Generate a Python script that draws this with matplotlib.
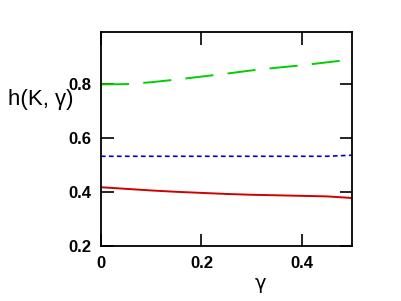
import matplotlib
matplotlib.use("Agg")
import matplotlib.pyplot as plt

gamma = [0.0, 0.05, 0.1, 0.15, 0.2, 0.25, 0.3, 0.35, 0.4, 0.45, 0.5]
h_green = [0.800, 0.801, 0.808, 0.818, 0.829, 0.840, 0.852, 0.862, 0.871, 0.882, 0.893]
h_blue = [0.533, 0.533, 0.533, 0.533, 0.533, 0.533, 0.533, 0.533, 0.533, 0.533, 0.537]
h_red = [0.418, 0.412, 0.406, 0.401, 0.397, 0.393, 0.390, 0.388, 0.386, 0.384, 0.378]
xticks = [0, 0.2, 0.4]
xticklabels = ["0", "0.2", "0.4"]
yticks = [0.2, 0.4, 0.6, 0.8]
yticklabels = ["0.2", "0.4", "0.6", "0.8"]

fig = plt.figure(figsize=(4.02, 3.01), dpi=100)
ax = fig.add_axes([0.251, 0.183, 0.625, 0.711])

ax.plot(gamma, h_green, color="#00d000", lw=1.4, dashes=(14.5, 7.3))
ax.plot(gamma, h_blue, color="#0000d0", lw=1.2, dashes=(2.8, 2.0))
ax.plot(gamma, h_red, color="#d00000", lw=1.4)

ax.set_xlim(0, 0.5)
ax.set_ylim(0.2, 0.995)
ax.set_xticks(xticks)
ax.set_xticklabels(xticklabels)
ax.set_yticks(yticks)
ax.set_yticklabels(yticklabels)
ax.tick_params(direction="in", length=9, width=1.2, top=True, right=True,
               labelsize=12, pad=7)
for lab in ax.get_xticklabels() + ax.get_yticklabels():
    lab.set_fontweight("bold")
    lab.set_family("Liberation Sans")
for s in ax.spines.values():
    s.set_linewidth(1.3)

fig.text(0.02, 0.668, "h(K, γ)", fontsize=16, ha="left", va="center",
         family="Liberation Sans")
ax.set_xlabel("γ", fontsize=14, labelpad=0)
ax.xaxis.set_label_coords(0.633, -0.13)

fig.savefig("out.png", dpi=100)
